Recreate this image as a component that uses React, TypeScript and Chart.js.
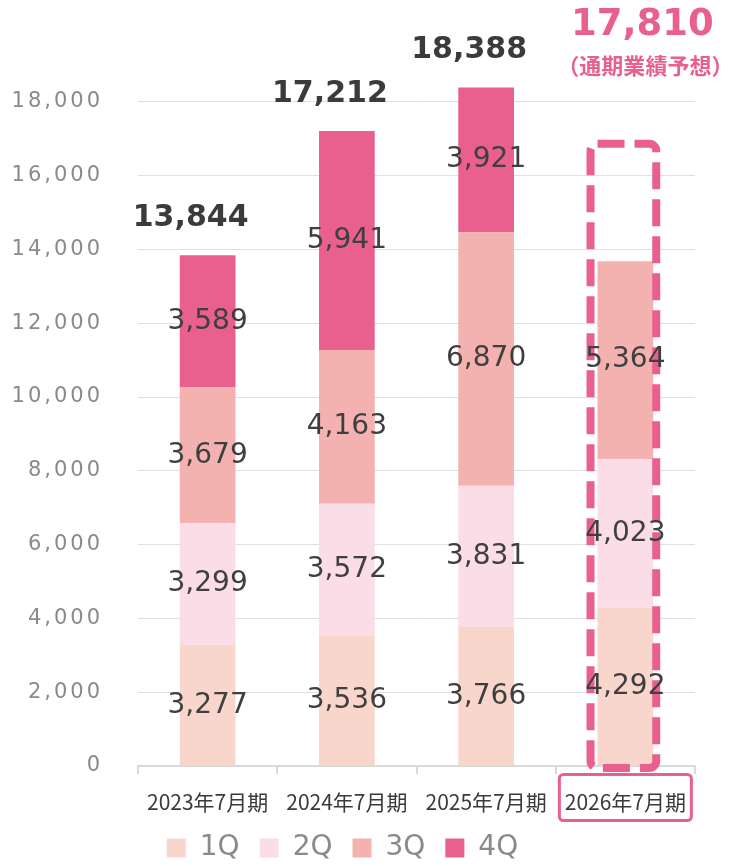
import React, { useEffect, useRef } from 'react';
import { Chart, registerables } from 'chart.js';

Chart.register(...registerables);

// ---- data ----
const categories = ['2023年7月期', '2024年7月期', '2025年7月期', '2026年7月期'];
const seriesNames = ['1Q', '2Q', '3Q', '4Q'];
const q1 = [3277, 3536, 3766, 4292];
const q2 = [3299, 3572, 3831, 4023];
const q3 = [3679, 4163, 6870, 5364];
const q4 = [3589, 5941, 3921, null];
const totals = [13844, 17212, 18388, 17810];
const forecastIndex = 3;
const forecastNote = '（通期業績予想）';
const yMax = 20000;
const yStep = 2000;
const forecastBoxTopValue = 16860;

const seriesColors = ['#F9D6CC', '#FADDE6', '#F3B1B0', '#E9608F'];
const NUM_FONT = '"DejaVu Sans", Verdana, sans-serif';
const JP_FONT = '"Noto Sans CJK JP", "Noto Sans", sans-serif';

const fmt = (v: number) => v.toLocaleString('en-US');

const annotatePlugin = {
  id: 'annotate',
  afterUpdate(chart: any) {
    const lg = chart.legend;
    if (lg) {
      lg.left -= 5;
      lg.right -= 5;
    }
  },
  afterDatasetsDraw(chart: any) {
    const ctx = chart.ctx as CanvasRenderingContext2D;
    const y = chart.scales.y;
    const x = chart.scales.x;
    const metas = chart.data.datasets.map((_: any, i: number) => chart.getDatasetMeta(i));
    const pink = seriesColors[3];
    ctx.save();

    // dashed forecast box
    const fb = metas[0].data[forecastIndex];
    const half = fb.width / 2;
    const bl = fb.x - half - 7;
    const br = fb.x + half + 3;
    const bt = y.getPixelForValue(forecastBoxTopValue);
    const bb = y.getPixelForValue(0) + 2;
    ctx.strokeStyle = pink;
    ctx.lineWidth = 8;
    ctx.setLineDash([27, 10]);
    ctx.beginPath();
    (ctx as any).roundRect(bl, bt, br - bl, bb - bt, 7);
    ctx.stroke();
    ctx.setLineDash([]);

    // forecast category label box
    const cx = x.getPixelForValue(forecastIndex);
    ctx.lineWidth = 3;
    ctx.beginPath();
    (ctx as any).roundRect(cx - 66, chart.chartArea.bottom + 8.5, 132, 46, 4);
    ctx.stroke();

    // segment labels
    ctx.fillStyle = '#3f3f3f';
    ctx.font = `28px ${NUM_FONT}`;
    ctx.textAlign = 'center';
    ctx.textBaseline = 'middle';
    metas.forEach((m: any, di: number) => {
      m.data.forEach((el: any, i: number) => {
        const v = chart.data.datasets[di].data[i];
        if (v == null) return;
        const p = el.getProps(['x', 'y', 'base'], true);
        ctx.fillText(fmt(v), p.x, (p.y + p.base) / 2);
      });
    });

    // totals
    totals.forEach((t, i) => {
      const bx = metas[0].data[i].x;
      if (i === forecastIndex) {
        const top = y.getPixelForValue(yMax);
        ctx.fillStyle = pink;
        ctx.font = `bold 37px ${NUM_FONT}`;
        ctx.fillText(fmt(t), bx + 17, top - 3);
        ctx.font = `bold 22px ${JP_FONT}`;
        ctx.fillText(forecastNote, bx + 20, top + 38);
      } else {
        ctx.fillStyle = '#3b3b3b';
        ctx.font = `bold 30px ${NUM_FONT}`;
        ctx.fillText(fmt(t), bx - 17, y.getPixelForValue(t) - 37);
      }
    });
    ctx.restore();
    // widen the y tick labels drawn in the next layer
    (ctx as any).letterSpacing = '3px';
  },
  afterDraw(chart: any) {
    (chart.ctx as any).letterSpacing = '0px';
  },
};

export default function App() {
  const ref = useRef<HTMLCanvasElement | null>(null);

  useEffect(() => {
    if (!ref.current) return;
    const series = [q1, q2, q3, q4];
    const chart = new Chart(ref.current, {
      type: 'bar',
      data: {
        labels: categories,
        datasets: series.map((d, i) => ({
          label: seriesNames[i],
          data: d as any,
          backgroundColor: seriesColors[i],
          borderWidth: 0,
          barPercentage: 0.4,
          categoryPercentage: 1.0,
        })),
      },
      options: {
        responsive: true,
        maintainAspectRatio: false,
        animation: false,
        layout: { padding: { top: 28, right: 44, left: 0, bottom: -6 } },
        plugins: {
          legend: {
            position: 'bottom',
            labels: {
              boxWidth: 19,
              boxHeight: 19,
              padding: 20,
              color: '#8a8a8a',
              font: { family: NUM_FONT, size: 28 },
            },
          },
          tooltip: { enabled: false },
        },
        scales: {
          x: {
            stacked: true,
            grid: {
              display: true,
              drawOnChartArea: false,
              drawTicks: true,
              tickLength: 8,
              color: '#d9d9d9',
              lineWidth: 2,
              offset: true,
            },
            border: { color: '#d9d9d9', width: 2 },
            ticks: {
              color: '#3a3a3a',
              font: { family: JP_FONT, size: 21 },
              padding: 15,
              maxRotation: 0,
              autoSkip: false,
            },
            afterFit: (s: any) => {
              s.height = 48;
            },
          },
          y: {
            stacked: true,
            min: 0,
            max: yMax,
            ticks: {
              stepSize: yStep,
              color: '#8a8a8a',
              font: { family: NUM_FONT, size: 21 },
              padding: 0,
              z: 1,
              callback: (v: any) => (Number(v) >= yMax ? '' : fmt(Number(v))),
            },
            grid: {
              color: (c: any) => (c.tick && c.tick.value >= yMax ? 'rgba(0,0,0,0)' : '#e0e0e0'),
              drawTicks: true,
              tickLength: 35,
              tickColor: 'rgba(0,0,0,0)',
              lineWidth: 1,
            },
            border: { display: false },
            afterFit: (s: any) => {
              s.width = 138;
            },
          },
        },
      } as any,
      plugins: [annotatePlugin as any],
    });
    return () => chart.destroy();
  }, []);

  return (
    <div style={{ position: 'absolute', left: 0, top: 0, width: 739, height: 866, background: '#fff' }}>
      <canvas ref={ref} />
    </div>
  );
}
